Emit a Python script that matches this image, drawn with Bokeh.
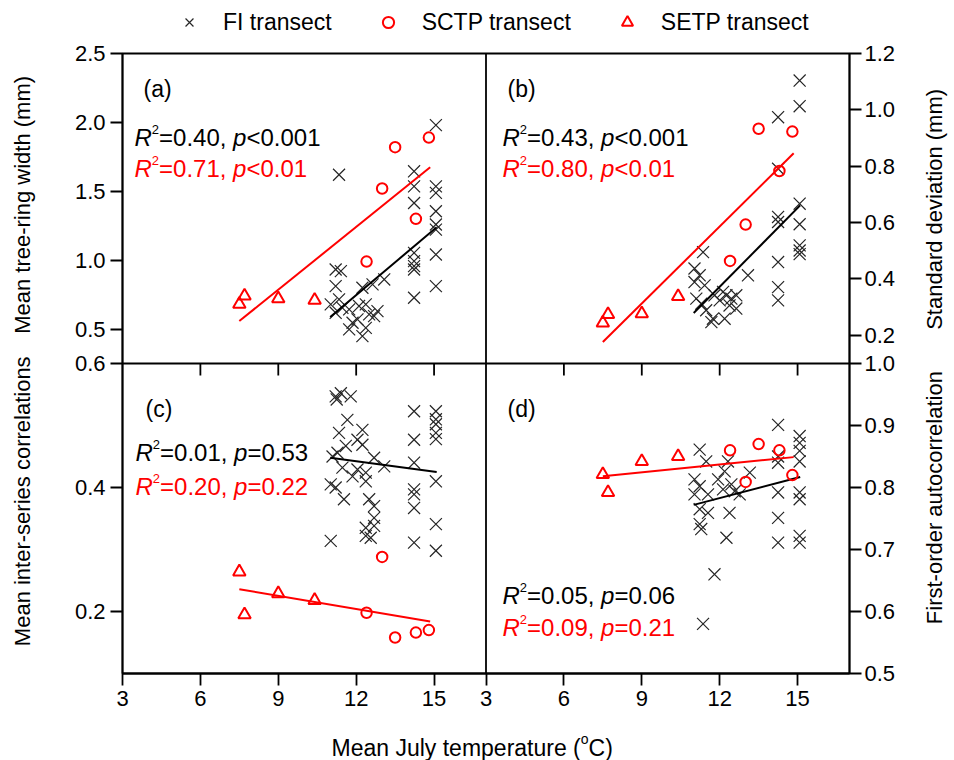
import numpy as np
from bokeh.plotting import figure
from bokeh.layouts import column, row
from bokeh.models import Range1d, LinearAxis, FixedTicker, Label, Span, Legend, LegendItem
from bokeh.embed import file_html
from bokeh.resources import INLINE

FONT = "Liberation Sans"
RED = "#ff0000"
GREY = "#262626"

# ---------------- data ----------------
X_TICKS = [3, 6, 9, 12, 15]
X_LIM = (3, 17)
Y_LIM_A, Y_TICKS_A = (0.25, 2.5), [0.5, 1.0, 1.5, 2.0, 2.5]
Y_LIM_B, Y_TICKS_B = (0.1, 1.2), [0.2, 0.4, 0.6, 0.8, 1.0, 1.2]
Y_LIM_C, Y_TICKS_C = (0.1, 0.6), [0.2, 0.4, 0.6]
Y_LIM_D, Y_TICKS_D = (0.5, 1.0), [0.5, 0.6, 0.7, 0.8, 0.9, 1.0]

SETP_T = [7.5, 7.7, 9.0, 10.4]
SCTP_T = [12.4, 13.0, 13.5, 14.3, 14.8]

SETP_A = [0.68, 0.74, 0.72, 0.71]
SCTP_A = [0.99, 1.52, 1.82, 1.30, 1.89]
SETP_B = [0.244, 0.274, 0.277, 0.338]
SCTP_B = [0.464, 0.593, 0.933, 0.783, 0.923]
SETP_C = [0.264, 0.195, 0.229, 0.218]
SCTP_C = [0.198, 0.288, 0.158, 0.166, 0.170]
SETP_D = [0.821, 0.792, 0.842, 0.850]
SCTP_D = [0.860, 0.809, 0.870, 0.860, 0.820]

FI_TA = [15.07, 11.34, 14.23, 14.23, 14.23, 15.07, 15.07, 15.07, 15.07, 15.07, 15.07, 15.07,
         14.23, 14.23, 14.23, 14.23, 14.23, 13.08, 12.63, 12.24,
         11.21, 11.41, 11.21, 11.02, 11.34, 11.47, 11.21, 11.73, 11.86, 11.73, 12.24, 12.37,
         12.11, 12.37, 12.50, 12.69, 12.82, 12.05]
FI_A = [1.98, 1.62, 1.645, 1.536, 1.415, 1.536, 1.488, 1.355, 1.259, 1.222, 1.041, 0.812,
        1.053, 0.993, 0.957, 0.932, 0.727, 0.860, 0.824, 0.80,
        0.932, 0.920, 0.812, 0.679, 0.715, 0.654, 0.618, 0.643, 0.546, 0.498, 0.449, 0.509,
        0.667, 0.679, 0.607, 0.594, 0.630, 0.570]

FI_TB = [15.08, 15.08, 14.25, 14.25, 15.08, 14.25, 14.25, 15.08, 15.08, 15.08, 15.08, 14.25, 14.25, 14.25,
         11.36, 13.09, 11.03, 11.23, 11.03, 11.42, 11.10, 11.29, 11.48, 11.74, 12.19, 12.0, 12.26,
         12.45, 12.64, 12.38, 12.64, 12.13, 11.80, 11.68]
FI_B = [1.104, 1.013, 0.974, 0.791, 0.667, 0.620, 0.602, 0.594, 0.519, 0.501, 0.488, 0.460, 0.371, 0.324,
        0.495, 0.413, 0.437, 0.413, 0.389, 0.377, 0.330, 0.312, 0.289, 0.259, 0.259, 0.324, 0.342,
        0.330, 0.342, 0.306, 0.295, 0.354, 0.342, 0.247]

FI_TC = [11.21, 11.41, 11.79, 11.25, 11.66, 11.34, 12.24, 12.05, 12.24, 11.60, 11.09, 11.28, 12.69,
         13.08, 11.47, 12.05, 11.86, 12.37, 12.37, 11.02, 11.21, 11.53, 12.50, 12.69, 12.69, 12.69,
         12.37, 12.37, 12.56, 11.02,
         14.23, 14.23, 14.23, 14.23, 14.23, 14.23, 14.23,
         15.07, 15.07, 15.07, 15.07, 15.07, 15.07, 15.07, 15.07]
FI_C = [0.547, 0.552, 0.547, 0.542, 0.509, 0.488, 0.493, 0.477, 0.469, 0.467, 0.450, 0.456, 0.448,
        0.434, 0.432, 0.429, 0.418, 0.424, 0.410, 0.405, 0.400, 0.381, 0.381, 0.370, 0.351, 0.338,
        0.335, 0.322, 0.319, 0.314,
        0.523, 0.477, 0.440, 0.397, 0.389, 0.367, 0.311,
        0.523, 0.510, 0.502, 0.488, 0.478, 0.410, 0.341, 0.298]

FI_TD = [14.25, 15.08, 15.08, 15.08, 15.08, 14.25, 14.25, 11.23, 11.48, 12.32, 12.19, 13.16, 11.03,
         11.23, 11.94, 12.13, 12.45, 12.58, 12.77, 11.03, 11.55, 11.23, 11.55, 12.38, 11.23, 11.29,
         12.26, 14.25, 14.25, 14.25, 15.08, 15.08, 15.08, 15.08, 11.80, 11.36]
FI_D = [0.901, 0.883, 0.872, 0.859, 0.842, 0.850, 0.840, 0.861, 0.842, 0.842, 0.826, 0.824, 0.813,
        0.802, 0.813, 0.797, 0.805, 0.794, 0.789, 0.789, 0.789, 0.765, 0.759, 0.759, 0.741, 0.733,
        0.719, 0.792, 0.751, 0.711, 0.792, 0.781, 0.722, 0.711, 0.660, 0.580]

# regression lines (end points)
FIT_FI_T = [11.0, 15.1]
FIT_RED_T = [7.5, 14.85]
FIT_FI_A, FIT_RED_A = [0.587, 1.239], [0.558, 1.674]
FIT_FI_B, FIT_RED_B = [0.279, 0.661], [0.176, 0.846]
FIT_FI_C, FIT_RED_C = [0.448, 0.425], [0.236, 0.184]
FIT_FI_D, FIT_RED_D = [0.772, 0.817], [0.818, 0.849]

STATS = {
    "a": (("0.40", "<0.001"), ("0.71", "<0.01")),
    "b": (("0.43", "<0.001"), ("0.80", "<0.01")),
    "c": (("0.01", "=0.53"), ("0.20", "=0.22")),
    "d": (("0.05", "=0.06"), ("0.09", "=0.21")),
}
LEGEND_LABELS = ["FI transect", "SCTP transect", "SETP transect"]
Y_TITLES_L = ["Mean tree-ring width (mm)", "Mean inter-series correlations"]
Y_TITLES_R = ["Standard deviation (mm)", "First-order autocorrelation"]
X_TITLE = ("Mean July temperature (", "o", "C)")

# ---------------- page layout (pixels) ----------------
PAGE_W, PAGE_H = 954, 760
FRAME_L, FRAME_R, FRAME_T, FRAME_B = 122, 849, 53, 673
STRIP_L, STRIP_R, STRIP_T, STRIP_B = 60, 55, 38, 38
MAIN_W = PAGE_W - STRIP_L - STRIP_R
MAIN_H = PAGE_H - STRIP_T - STRIP_B
BL = FRAME_L - STRIP_L
BR = (PAGE_W - STRIP_R) - FRAME_R
BT = FRAME_T - STRIP_T
BB = (PAGE_H - STRIP_B) - FRAME_B
FW, FH = FRAME_R - FRAME_L, FRAME_B - FRAME_T
SPAN_X = X_LIM[1] - X_LIM[0]
YSPAN = Y_LIM_C[1] - Y_LIM_C[0]
MID = Y_LIM_C[1]          # boundary between upper and lower panels in main coords
LW = 1.8

p = figure(width=MAIN_W, height=MAIN_H,
           x_range=Range1d(X_LIM[0], X_LIM[0] + 2 * SPAN_X),
           y_range=Range1d(Y_LIM_C[0], Y_LIM_C[0] + 2 * YSPAN),
           x_axis_location=None, y_axis_location=None,
           output_backend="svg", toolbar_location=None,
           min_border_left=BL, min_border_right=BR, min_border_top=BT, min_border_bottom=BB)
p.grid.visible = False
p.background_fill_color = "white"
p.border_fill_color = "white"
p.outline_line_color = "black"
p.outline_line_width = LW

p.extra_x_ranges = {"xr": Range1d(X_LIM[0] - SPAN_X, X_LIM[1])}


def top_range(lim):
    lo, hi = lim
    return Range1d(lo - (hi - lo), hi)


p.extra_y_ranges = {"tl": top_range(Y_LIM_A), "tr": top_range(Y_LIM_B),
                    "br": Range1d(Y_LIM_D[0], Y_LIM_D[1] + (Y_LIM_D[1] - Y_LIM_D[0]))}


def to_main_top(v, lim):
    return MID + (v - lim[0]) / (lim[1] - lim[0]) * YSPAN


def to_main_bottom(v, lim):
    return Y_LIM_C[0] + (v - lim[0]) / (lim[1] - lim[0]) * YSPAN


def style_axis(ax):
    ax.axis_line_color = "black"
    ax.axis_line_width = LW
    ax.major_tick_line_color = "black"
    ax.major_tick_line_width = LW
    ax.major_tick_out = 12
    ax.major_tick_in = 0
    ax.minor_tick_line_color = None
    ax.major_label_text_font = FONT
    ax.major_label_text_font_size = "22px"
    ax.major_label_text_color = "black"
    ax.major_label_standoff = 5


# left axis (panels a and c)
lt, lo = [], {}
for v in Y_TICKS_C:
    t = to_main_bottom(v, Y_LIM_C); lt.append(t); lo[t] = f"{v:.1f}"
for v in Y_TICKS_A:
    t = to_main_top(v, Y_LIM_A); lt.append(t); lo[t] = f"{v:.1f}"
ax_l = LinearAxis(ticker=FixedTicker(ticks=lt), major_label_overrides=lo)
style_axis(ax_l)
p.add_layout(ax_l, "left")

# right axis (panels b and d)
rt, ro = [], {}
for v in Y_TICKS_D:
    t = to_main_bottom(v, Y_LIM_D); rt.append(t); ro[t] = f"{v:.1f}"
for v in Y_TICKS_B:
    t = to_main_top(v, Y_LIM_B); rt.append(t); ro[t] = f"{v:.1f}"
ax_r = LinearAxis(ticker=FixedTicker(ticks=rt), major_label_overrides=ro)
style_axis(ax_r)
ax_r.major_label_standoff = 3
p.add_layout(ax_r, "right")

# bottom axis (panels c and d)
bt, bo = [], {}
for v in X_TICKS:
    bt.append(v); bo[v] = str(v)
for v in X_TICKS:
    t = v + SPAN_X; bt.append(t); bo[t] = str(v)
ax_b = LinearAxis(ticker=FixedTicker(ticks=bt), major_label_overrides=bo)
style_axis(ax_b)
ax_b.major_label_standoff = 5
p.add_layout(ax_b, "below")

# panel separators and the ticks of the upper panels' x axes
p.add_layout(Span(location=MID, dimension="width", line_color="black", line_width=LW))
p.add_layout(Span(location=X_LIM[1], dimension="height", line_color="black", line_width=LW))
tick_len = 12.0 / FH * (2 * YSPAN)
inner = X_TICKS[1:]
for xr in ("default", "xr"):
    p.segment(x0=inner, y0=[MID] * len(inner), x1=inner, y1=[MID - tick_len] * len(inner),
              line_color="black", line_width=LW, x_range_name=xr)

# ---------------- glyphs ----------------
MK_FI = dict(marker="x", size=17, line_color=GREY, line_width=1.2)
MK_SC = dict(marker="circle", size=10.5, line_color=RED, fill_color=None, line_width=2)
MK_SE = dict(marker="triangle", size=12.5, line_color=RED, fill_color=None, line_width=2)

PANELS = [
    ("default", "tl", FI_TA, FI_A, SCTP_A, SETP_A, FIT_FI_A, FIT_RED_A),
    ("xr", "tr", FI_TB, FI_B, SCTP_B, SETP_B, FIT_FI_B, FIT_RED_B),
    ("default", "default", FI_TC, FI_C, SCTP_C, SETP_C, FIT_FI_C, FIT_RED_C),
    ("xr", "br", FI_TD, FI_D, SCTP_D, SETP_D, FIT_FI_D, FIT_RED_D),
]
for xn, yn, fx, fy, sc, se, ffi, fred in PANELS:
    kw = dict(x_range_name=xn, y_range_name=yn)
    p.scatter(fx, fy, **MK_FI, **kw)
    p.line(FIT_FI_T, ffi, line_color="black", line_width=2, **kw)
    p.line(FIT_RED_T, fred, line_color=RED, line_width=2, **kw)
    p.scatter(SCTP_T, sc, **MK_SC, **kw)
    p.scatter(SETP_T, se, **MK_SE, **kw)

# ---------------- texts inside the main frame ----------------
PXU = FW / (2 * SPAN_X)
PYU = FH / (2 * YSPAN)

WID = {"0": 556, "1": 556, "2": 556, "3": 556, "4": 556, "5": 556, "6": 556, "7": 556, "8": 556,
       "9": 556, ".": 278, ",": 278, " ": 278, "=": 584, "<": 584, "R": 722, "p": 556, "(": 333,
       ")": 333, "C": 722, "o": 556, "M": 833, "e": 556, "a": 556, "n": 556, "J": 500, "u": 556,
       "l": 222, "y": 500, "t": 278, "m": 833, "r": 333}


def tw(s, size):
    return sum(WID.get(c, 556) for c in s) * size / 1000.0


def label(fig, text, x, y, size, color="black", style="normal", dx=0, dy=0, angle=0,
          align="left", baseline="alphabetic"):
    fig.add_layout(Label(x=x, y=y, text=text, x_offset=dx, y_offset=dy,
                         angle=angle, text_font=FONT, text_font_size=f"{size}px",
                         text_font_style=style, text_color=color, text_align=align,
                         text_baseline=baseline))


def main_lab(text, px_, py_, size, **kw):
    x = X_LIM[0] + (px_ - FRAME_L) / PXU
    y = Y_LIM_C[0] + (FRAME_B - py_) / PYU
    label(p, text, x, y, size, **kw)


def pieces(put, parts, color):
    x = 0.0
    for text, size, style, dy in parts:
        put(text, size, color=color, style=style, dx=x, dy=dy)
        x += tw(text, size)


def stat_line(px_, py_, r2, pv, color):
    pieces(lambda t, s, **k: main_lab(t, px_, py_, s, **k),
           [("R", 24, "italic", 0), ("2", 13, "normal", 8), ("=" + r2 + ", ", 24, "normal", 0),
            ("p", 24, "italic", 0), (pv, 24, "normal", 0)], color)


TXT_POS = {"a": (134, 143, 88, 137, 168), "b": (502, 507, 88, 137, 168),
           "c": (135, 145, 408, 452, 486), "d": (502, 507, 408, 595, 627)}
for key, (sx, lx, ly, y1, y2) in TXT_POS.items():
    main_lab(f"({key})", lx, ly, 23)
    (a1, b1), (a2, b2) = STATS[key]
    stat_line(sx, y1, a1, b1, "black")
    stat_line(sx, y2, a2, b2, RED)


# ---------------- text strips around the main figure ----------------
def strip(w, h):
    f = figure(width=w, height=h, x_range=Range1d(0, w), y_range=Range1d(0, h),
               x_axis_location=None, y_axis_location=None, output_backend="svg",
               toolbar_location=None, min_border=0, min_border_left=0, min_border_right=0,
               min_border_top=0, min_border_bottom=0)
    f.grid.visible = False
    f.outline_line_color = None
    f.background_fill_color = "white"
    f.border_fill_color = "white"
    return f


# top: legend (its sample glyphs sit outside the strip's visible range)
top = strip(PAGE_W, STRIP_T)
HIDDEN = [-1000.0]
r_fi = top.scatter(x=HIDDEN, y=HIDDEN, **MK_FI)
r_sc = top.scatter(x=HIDDEN, y=HIDDEN, **MK_SC)
r_se = top.scatter(x=HIDDEN, y=HIDDEN, **MK_SE)
legend = Legend(items=[LegendItem(label=LEGEND_LABELS[0], renderers=[r_fi]),
                       LegendItem(label=LEGEND_LABELS[1], renderers=[r_sc]),
                       LegendItem(label=LEGEND_LABELS[2], renderers=[r_se])],
                orientation="horizontal", location=(175, 2))
legend.label_text_font = FONT
legend.label_text_font_size = "23px"
legend.label_text_color = "black"
legend.border_line_color = None
legend.background_fill_alpha = 0
legend.glyph_width = 28
legend.glyph_height = 28
legend.label_standoff = 20
legend.spacing = 42
legend.padding = 0
legend.margin = 0
top.add_layout(legend, "center")

# left / right: y titles (strip y = distance from the strip bottom)
left = strip(STRIP_L, MAIN_H)
right = strip(STRIP_R, MAIN_H)
SB = PAGE_H - STRIP_B
for fig, x0, titles, xs, ys in ((left, 0, Y_TITLES_L, 22, (205, 532)),
                                (right, PAGE_W - STRIP_R, Y_TITLES_R, 934, (210, 528))):
    for t, yc in zip(titles, ys):
        label(fig, t, xs - x0, SB - yc, 22, angle=np.pi / 2, align="center", baseline="middle")

# bottom: x title
bottom = strip(PAGE_W, STRIP_B)
pieces(lambda t, s, **k: label(bottom, t, 331, PAGE_H - 747, s, **k),
       [(X_TITLE[0], 23, "normal", 0), (X_TITLE[1], 14, "normal", 9), (X_TITLE[2], 23, "normal", 0)],
       "black")

layout = column(top, row(left, p, right), bottom)
open("out.html", "w").write(file_html(layout, INLINE))
